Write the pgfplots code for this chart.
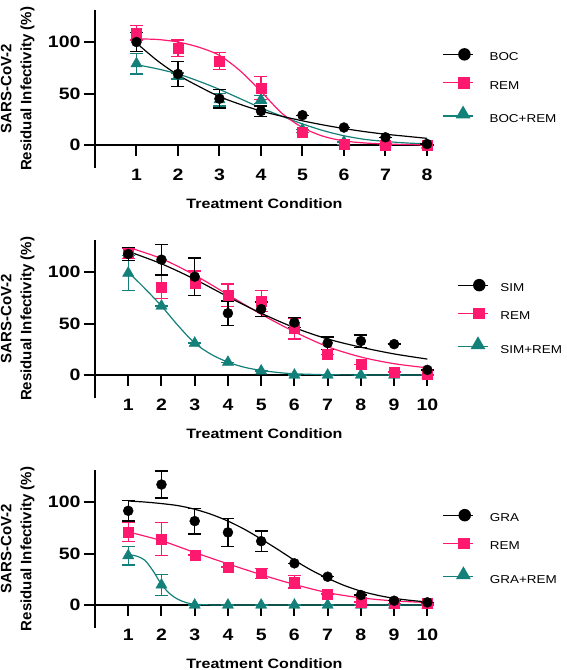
\documentclass[border=0pt]{standalone}
\usepackage{fontspec}
\setmainfont{Liberation Sans}
\newfontfamily\stretchfam{Liberation Sans}[FakeStretch=1.18]
\usepackage{pgfplots}
\pgfplotsset{compat=1.18}
\usetikzlibrary{shapes.geometric}
\definecolor{pk}{RGB}{255,25,110}
\definecolor{tl}{RGB}{20,128,122}
\newcommand\tickfont{\stretchfam\bfseries\fontsize{16.5}{18}\selectfont}
\newcommand\xlabfont{\stretchfam\bfseries\fontsize{13.6}{15}\selectfont}
\newcommand\ylabfont{\bfseries\fontsize{15}{20}\selectfont}
\newcommand\legfont{\stretchfam\fontsize{11.4}{13}\selectfont}

\pgfplotsset{
 lk/.style={legend image code/.code={\draw[black,line width=1.2pt] (0pt,3pt)--(30pt,3pt); \node[circle, fill=black, inner sep=0pt, minimum size=12.5pt] at (15pt,3pt) {};}},
 lp/.style={legend image code/.code={\draw[pk,line width=1.2pt] (0pt,3pt)--(30pt,3pt); \node[rectangle, fill=pk, inner sep=0pt, minimum size=11.5pt] at (15pt,3pt) {};}},
 lt/.style={legend image code/.code={\draw[tl,line width=1.2pt] (0pt,3pt)--(30pt,3pt); \node[regular polygon, regular polygon sides=3, fill=tl, inner sep=0pt, minimum size=17pt] at (15pt,5pt) {};}},
 panel/.style={
  scale only axis, width=339pt, height=157.6pt,
  xmin=0, ymin=-22, ymax=131,
  axis x line=middle, axis y line=left,
  axis line style={-, line width=2pt},
  every inner x axis line/.append style={-},
  every outer y axis line/.append style={-},
  hide obscured x ticks=false, hide obscured y ticks=false,
  tick align=outside, major tick length=11pt,
  every tick/.style={black, line width=2pt},
  ytick={0,50,100},
  /pgf/number format/assume math mode=true,
  tick label style={font=\tickfont},
  xticklabel style={anchor=center, yshift=-19pt},
  clip=false,
  every axis x label/.style={at={(axis description cs:0.5,0)}, anchor=center, yshift=-36pt, font=\xlabfont},
  every axis y label/.style={at={(axis description cs:-0.228,0.5)}, anchor=center, rotate=90, align=center, font=\ylabfont},
  xlabel={Treatment Condition},
  ylabel={SARS-CoV-2\\Residual Infectivity (\%)},
  legend cell align=left,
  legend style={draw=none, fill=none, font=\legfont, anchor=north west, inner sep=0pt, row sep=15pt, nodes={inner sep=0pt},
   /tikz/every odd column/.append style={column sep=16pt}},
 },
 pts/.style={only marks, forget plot, error bars/.cd, y dir=both, y explicit,
   error bar style={line width=1.3pt}, error mark options={rotate=90, mark size=6.5pt, line width=1.3pt}},
 crv/.style={smooth, no marks, line width=1.2pt, forget plot},
}

\begin{document}
\begin{tikzpicture}
\useasboundingbox (0,0) rectangle (566pt,670pt);

% ---------------- Panel 1 ----------------
\begin{axis}[panel, at={(95pt,502.3pt)}, anchor=south west, xmax=8.17, xtick={1,...,8},
  legend style={at={(axis description cs:1.024,0.76)}}]
\addlegendimage{lk}\addlegendentry{BOC}
\addlegendimage{lp}\addlegendentry{REM}
\addlegendimage{lt}\addlegendentry{BOC+REM}
% BOC+REM
\addplot[crv, tl] coordinates {(1,78)(1.5,74)(2,69)(2.5,62)(3,54)(3.5,45)(4,36)(4.5,28)(5,20.5)(5.5,14)(6,9)(6.5,5.5)(7,3.5)(7.5,2)(8,1.2)};
\addplot[tl, mark=triangle*, mark size=6.5pt, pts] table[x=x,y=y,y error=e] {
x y e
1 79 10
2 67 3
3 44 6
4 44 4
5 15 0
6 3 0
7 1 0
8 0 0
};
% REM
\addplot[crv, pk] coordinates {(1,103)(1.5,102.5)(2,100)(2.5,95)(3,87)(3.5,72)(4,52)(4.5,31)(5,17)(5.5,8.5)(6,4)(6.5,2)(7,1)(7.5,0.5)(8,0.2)};
\addplot[pk, mark=square*, mark size=5pt, pts] table[x=x,y=y,y error=e] {
x y e
1 109 7
2 94 8
3 81.5 8
4 55.5 11
5 12.5 0
6 0.7 0
7 0 0
8 0 0
};
% BOC
\addplot[crv, black] coordinates {(1,99)(1.5,82)(2,68)(2.5,57)(3,47)(3.5,39.5)(4,33)(4.5,28)(5,23.5)(5.5,19.5)(6,16)(6.5,13)(7,10.5)(7.5,8.5)(8,6.5)};
\addplot[black, mark=*, mark size=5pt, pts] table[x=x,y=y,y error=e] {
x y e
1 100 9
2 69 12
3 45 9
4 33 5
5 29 0
6 17 0
7 7.5 0
8 1 0
};
\end{axis}

% ---------------- Panel 2 ----------------
\begin{axis}[panel, at={(95pt,272.3pt)}, anchor=south west, xmax=10.2, xtick={1,...,10},
  legend style={at={(axis description cs:1.068,0.755)}, /tikz/every odd column/.append style={column sep=12pt}}]
\addlegendimage{lk}\addlegendentry{SIM}
\addlegendimage{lp}\addlegendentry{REM}
\addlegendimage{lt}\addlegendentry{SIM+REM}
\addplot[crv, tl] coordinates {(1,100)(1.5,84)(2,67)(2.5,48)(3,31)(3.5,20)(4,12.5)(4.5,7.5)(5,4.5)(5.5,2.5)(6,1.2)(7,0.3)(8,0.1)(9,0)(10,0)};
\addplot[tl, mark=triangle*, mark size=6.5pt, pts] table[x=x,y=y,y error=e] {
x y e
1 99 17
2 67 0
3 31 0
4 12.5 0
5 4 0
6 0 0
7 0 0
8 0 0
9 0 0
10 0 0
};
\addplot[crv, pk] coordinates {(1,124)(2,113)(3,97)(4,78)(5,59)(6,42)(7,27.5)(8,17.5)(9,11)(10,7)};
\addplot[pk, mark=square*, mark size=5pt, pts] table[x=x,y=y,y error=e] {
x y e
1 118 5
2 85.5 11
3 89 12
4 77.5 11
5 72 10
6 45 10
7 20 0
8 10.5 0
9 3 0
10 0.7 0
};
\addplot[crv, black] coordinates {(1,120)(2,108)(3,93)(4,76)(5,60)(6,46)(7,35)(8,27)(9,20.5)(10,15.5)};
\addplot[black, mark=*, mark size=5pt, pts] table[x=x,y=y,y error=e] {
x y e
1 117.5 6
2 112 15
3 95.5 18
4 60 12
5 64 7
6 51 5
7 31 6
8 33 6
9 30 0
10 5 0
};
\end{axis}

% ---------------- Panel 3 ----------------
\begin{axis}[panel, at={(95pt,42.3pt)}, anchor=south west, xmax=10.2, xtick={1,...,10},
  legend style={at={(axis description cs:1.025,0.755)}}]
\addlegendimage{lk}\addlegendentry{GRA}
\addlegendimage{lp}\addlegendentry{REM}
\addlegendimage{lt}\addlegendentry{GRA+REM}
\addplot[crv, tl] coordinates {(1,49)(1.25,47.5)(1.5,43.5)(1.75,33)(2,20)(2.25,11)(2.5,5.5)(2.75,2.3)(3,0.8)(3.5,0.1)(4,0)(5,0)(6,0)(7,0)(8,0)(9,0)(10,0)};
\addplot[tl, mark=triangle*, mark size=6.5pt, pts] table[x=x,y=y,y error=e] {
x y e
1 48 9
2 19.5 10
3 0 0
4 0 0
5 0 0
6 0 0
7 0 0
8 0 0
9 0 0
10 0 0
};
\addplot[crv, pk] coordinates {(1,71)(2,62.5)(3,51)(4,40)(5,29.5)(6,20)(7,12)(8,7)(9,4)(10,2.5)};
\addplot[pk, mark=square*, mark size=5pt, pts] table[x=x,y=y,y error=e] {
x y e
1 71 9
2 64 16
3 48.5 0
4 37 0
5 30.5 5
6 22.5 6
7 10.7 0
8 3 0
9 1.6 0
10 1.6 0
};
\addplot[crv, black] coordinates {(1,101)(1.5,100)(2,98.5)(2.5,96.5)(3,93)(3.5,88)(4,81.5)(4.5,73.5)(5,64)(5.5,54)(6,43.5)(6.5,34)(7,26)(7.5,19)(8,13.5)(8.5,9.5)(9,6.5)(9.5,4.5)(10,3)};
\addplot[black, mark=*, mark size=5pt, pts] table[x=x,y=y,y error=e] {
x y e
1 91.5 10
2 117 13
3 81.5 12.5
4 70.5 13.5
5 62 10
6 40.5 0
7 27.5 0
8 9.7 0
9 4.2 0
10 2.6 0
};
\end{axis}
\end{tikzpicture}
\end{document}
